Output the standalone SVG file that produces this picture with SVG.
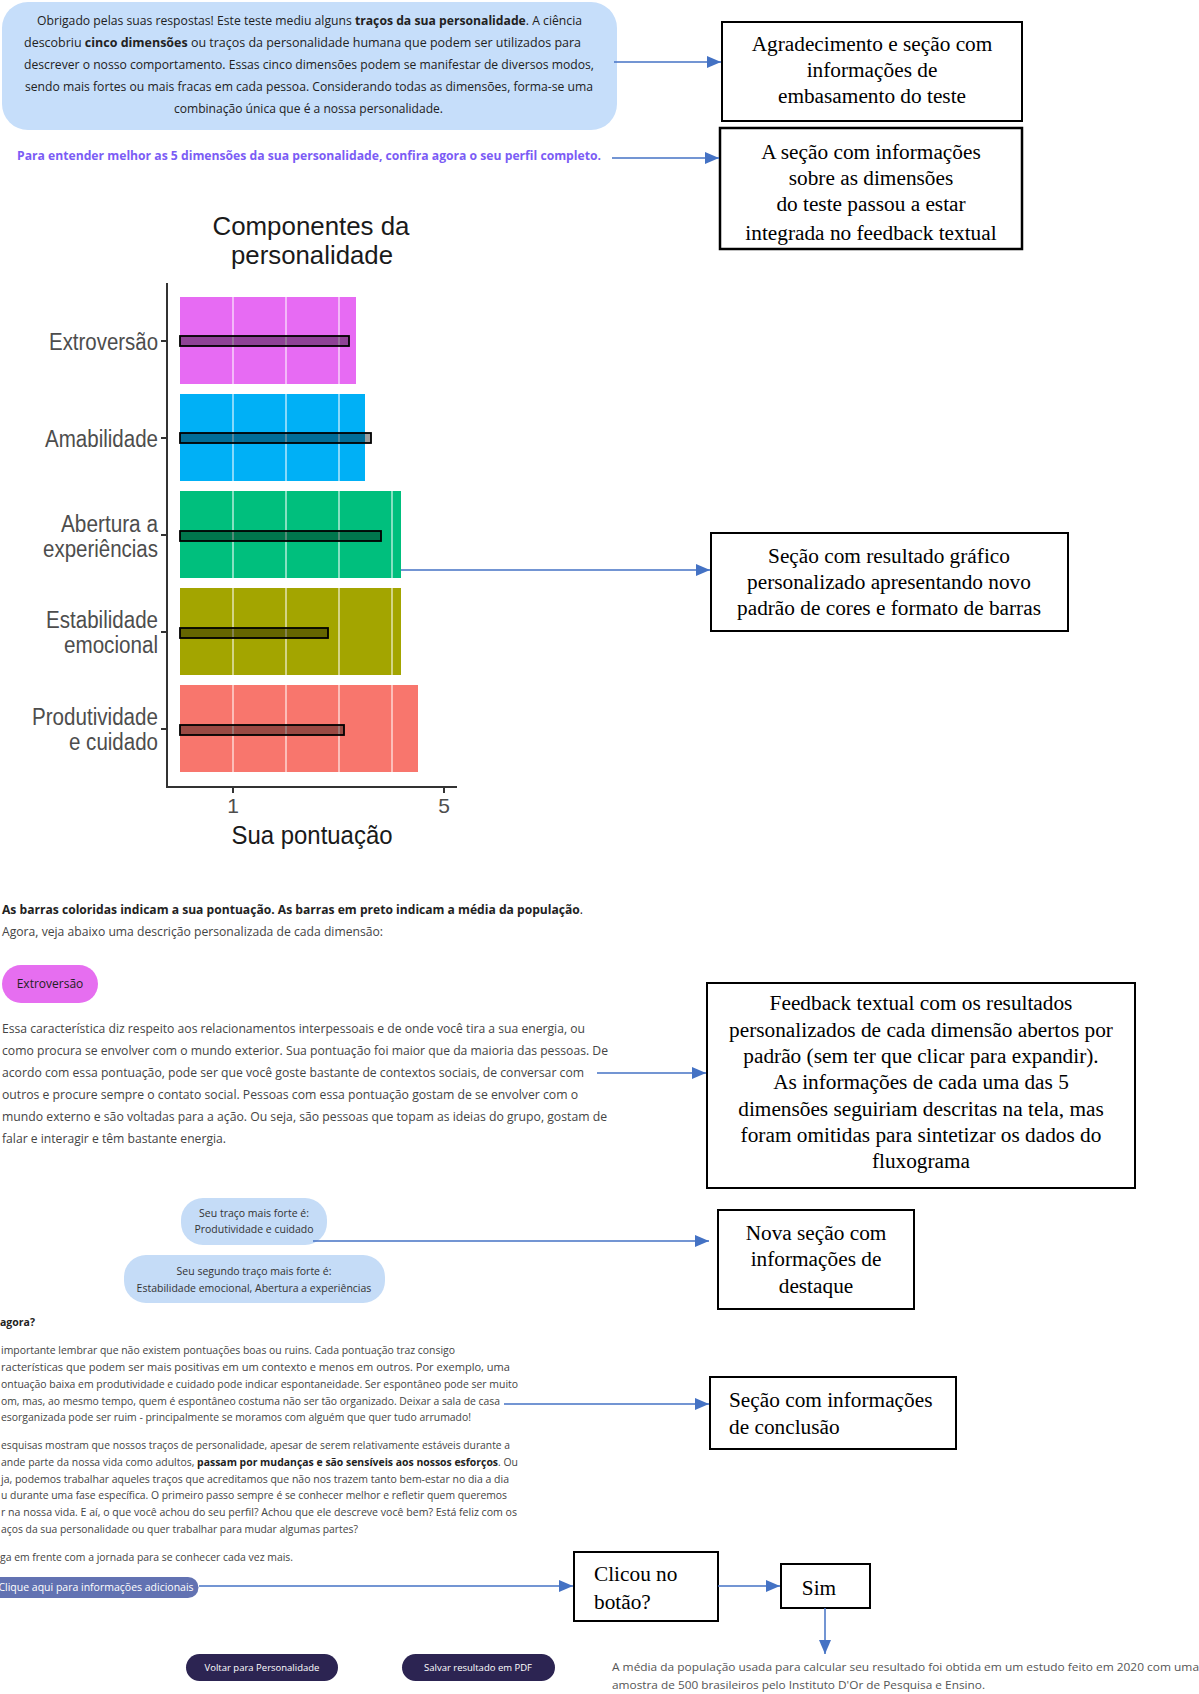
<svg xmlns="http://www.w3.org/2000/svg" width="1199" height="1694" viewBox="0 0 1199 1694">
<style>
.web{font-family:"Open Sans","Noto Sans",sans-serif;fill:#333}
.b{font-weight:bold}
.box{fill:#fff;stroke:#000;stroke-width:2}
.bt{font-family:"Liberation Serif","Times New Roman",serif;font-size:21.3px;fill:#000}
.conn{stroke:#4472C4;stroke-width:1.5;fill:none;marker-end:url(#ah)}
.ch{font-family:"Liberation Sans",Arial,sans-serif}
.lab{font-size:23px;fill:#4d4d4d;text-anchor:end}
.grid{stroke:#fff;stroke-opacity:0.7;stroke-width:1.5}
.mean{fill:#000;fill-opacity:0.38;stroke:#000;stroke-width:1.8}
</style>
<defs>
<marker id="ah" markerUnits="userSpaceOnUse" markerWidth="14" markerHeight="12" refX="14" refY="6" orient="auto">
<path d="M0,0 L14,6 L0,12 z" fill="#4472C4"/>
</marker>
<clipPath id="clip2"><rect x="720" y="128" width="302" height="117"/></clipPath>
</defs>
<rect width="1199" height="1694" fill="#fff"/>

<g id="intro">
<rect x="2" y="2" width="615" height="128" rx="26" fill="#C6DEFA"/>
<text class="web" font-size="12.5" y="25" x="37" textLength="545" lengthAdjust="spacingAndGlyphs" style="fill:#222">Obrigado pelas suas respostas! Este teste mediu alguns <tspan class="b">traços da sua personalidade</tspan>. A ciência</text>
<text class="web" font-size="12.5" y="47" x="24" textLength="557" lengthAdjust="spacingAndGlyphs" style="fill:#222">descobriu <tspan class="b">cinco dimensões</tspan> ou traços da personalidade humana que podem ser utilizados para</text>
<text class="web" font-size="12.5" y="69" x="24" textLength="570" lengthAdjust="spacingAndGlyphs" style="fill:#222">descrever o nosso comportamento. Essas cinco dimensões podem se manifestar de diversos modos,</text>
<text class="web" font-size="12.5" y="91" x="25" textLength="568" lengthAdjust="spacingAndGlyphs" style="fill:#222">sendo mais fortes ou mais fracas em cada pessoa. Considerando todas as dimensões, forma-se uma</text>
<text class="web" font-size="12.5" y="113" x="174" textLength="269" lengthAdjust="spacingAndGlyphs" style="fill:#222">combinação única que é a nossa personalidade.</text>
</g>

<g id="link">
<text class="web b" font-size="12.5" y="160" x="17" textLength="584" lengthAdjust="spacingAndGlyphs" style="fill:#7B5CF5">Para entender melhor as 5 dimensões da sua personalidade, confira agora o seu perfil completo.</text>
</g>

<g id="box1">
<rect class="box" x="722" y="22" width="300" height="99" stroke-width="2.5"/>
<text class="bt" text-anchor="middle" x="872" y="51">Agradecimento e seção com</text>
<text class="bt" text-anchor="middle" x="872" y="77">informações de</text>
<text class="bt" text-anchor="middle" x="872" y="103">embasamento do teste</text>
</g>

<g id="box2">
<g clip-path="url(#clip2)">
<text class="bt" text-anchor="middle" x="871" y="159">A seção com informações</text>
<text class="bt" text-anchor="middle" x="871" y="185">sobre as dimensões</text>
<text class="bt" text-anchor="middle" x="871" y="211">do teste passou a estar</text>
<text class="bt" text-anchor="middle" x="871" y="240">integrada no feedback textual</text>
</g>
<rect x="720" y="128" width="302" height="121" fill="none" stroke="#000" stroke-width="2.5"/>
</g>

<g id="chart">
<text class="ch" font-size="26" fill="#1a1a1a" text-anchor="middle" x="311" y="235" textLength="197" lengthAdjust="spacingAndGlyphs">Componentes da</text>
<text class="ch" font-size="26" fill="#1a1a1a" text-anchor="middle" x="312" y="264" textLength="162" lengthAdjust="spacingAndGlyphs">personalidade</text>
<rect x="180" y="297" width="176" height="87" fill="#E76BF3"/>
<rect x="180" y="394" width="185" height="87" fill="#00B0F6"/>
<rect x="180" y="491" width="221" height="87" fill="#00BF7D"/>
<rect x="180" y="588" width="221" height="87" fill="#A3A500"/>
<rect x="180" y="685" width="238" height="87" fill="#F8766D"/>
<g class="grid">
<line x1="233" y1="297" x2="233" y2="384"/><line x1="286" y1="297" x2="286" y2="384"/><line x1="339" y1="297" x2="339" y2="384"/>
<line x1="233" y1="394" x2="233" y2="481"/><line x1="286" y1="394" x2="286" y2="481"/><line x1="339" y1="394" x2="339" y2="481"/>
<line x1="233" y1="491" x2="233" y2="578"/><line x1="286" y1="491" x2="286" y2="578"/><line x1="339" y1="491" x2="339" y2="578"/><line x1="392" y1="491" x2="392" y2="578"/>
<line x1="233" y1="588" x2="233" y2="675"/><line x1="286" y1="588" x2="286" y2="675"/><line x1="339" y1="588" x2="339" y2="675"/><line x1="392" y1="588" x2="392" y2="675"/>
<line x1="233" y1="685" x2="233" y2="772"/><line x1="286" y1="685" x2="286" y2="772"/><line x1="339" y1="685" x2="339" y2="772"/><line x1="392" y1="685" x2="392" y2="772"/>
</g>
<rect class="mean" x="180" y="336" width="169" height="10"/>
<rect class="mean" x="180" y="433" width="191" height="10"/>
<rect class="mean" x="180" y="531" width="201" height="10"/>
<rect class="mean" x="180" y="628" width="148" height="10"/>
<rect class="mean" x="180" y="725" width="164" height="10"/>
<g stroke="#333" stroke-width="2" fill="none">
<path d="M167,283 V787 H457"/>
<path d="M161,341 H167 M161,438 H167 M161,535 H167 M161,632 H167 M161,729 H167 M233,787 V793 M444,787 V793"/>
</g>
<text class="ch lab" x="158" y="350" textLength="109" lengthAdjust="spacingAndGlyphs">Extroversão</text>
<text class="ch lab" x="158" y="447" textLength="113" lengthAdjust="spacingAndGlyphs">Amabilidade</text>
<text class="ch lab" x="158" y="532" textLength="97" lengthAdjust="spacingAndGlyphs">Abertura a</text>
<text class="ch lab" x="158" y="557" textLength="115" lengthAdjust="spacingAndGlyphs">experiências</text>
<text class="ch lab" x="158" y="628" textLength="112" lengthAdjust="spacingAndGlyphs">Estabilidade</text>
<text class="ch lab" x="158" y="653" textLength="94" lengthAdjust="spacingAndGlyphs">emocional</text>
<text class="ch lab" x="158" y="725" textLength="126" lengthAdjust="spacingAndGlyphs">Produtividade</text>
<text class="ch lab" x="158" y="750" textLength="89" lengthAdjust="spacingAndGlyphs">e cuidado</text>
<text class="ch" font-size="21" fill="#4d4d4d" text-anchor="middle" x="233" y="813">1</text>
<text class="ch" font-size="21" fill="#4d4d4d" text-anchor="middle" x="444" y="813">5</text>
<text class="ch" font-size="25" fill="#1a1a1a" text-anchor="middle" x="312" y="844" textLength="161" lengthAdjust="spacingAndGlyphs">Sua pontuação</text>
</g>

<g id="box3">
<rect class="box" x="711" y="533" width="357" height="98"/>
<text class="bt" text-anchor="middle" x="889" y="563">Seção com resultado gráfico</text>
<text class="bt" text-anchor="middle" x="889" y="589">personalizado apresentando novo</text>
<text class="bt" text-anchor="middle" x="889" y="615">padrão de cores e formato de barras</text>
</g>

<g id="feedback">
<text class="web" font-size="12.5" y="914" x="2" textLength="581" lengthAdjust="spacingAndGlyphs" style="fill:#222"><tspan class="b">As barras coloridas indicam a sua pontuação. As barras em preto indicam a média da população</tspan>.</text>
<text class="web" font-size="12.5" y="936" x="2" textLength="381" lengthAdjust="spacingAndGlyphs" style="fill:#444">Agora, veja abaixo uma descrição personalizada de cada dimensão:</text>
<rect x="2" y="965" width="96" height="38" rx="19" fill="#E66EF0"/>
<text class="web" font-size="12" x="50" y="988" text-anchor="middle" style="fill:#222">Extroversão</text>
<g class="web" font-size="12.5" style="fill:#444">
<text x="2" y="1033" textLength="583" lengthAdjust="spacingAndGlyphs">Essa característica diz respeito aos relacionamentos interpessoais e de onde você tira a sua energia, ou</text>
<text x="2" y="1055" textLength="606" lengthAdjust="spacingAndGlyphs">como procura se envolver com o mundo exterior. Sua pontuação foi maior que da maioria das pessoas. De</text>
<text x="2" y="1077" textLength="582" lengthAdjust="spacingAndGlyphs">acordo com essa pontuação, pode ser que você goste bastante de contextos sociais, de conversar com</text>
<text x="2" y="1099" textLength="576" lengthAdjust="spacingAndGlyphs">outros e procure sempre o contato social. Pessoas com essa pontuação gostam de se envolver com o</text>
<text x="2" y="1121" textLength="605" lengthAdjust="spacingAndGlyphs">mundo externo e são voltadas para a ação. Ou seja, são pessoas que topam as ideias do grupo, gostam de</text>
<text x="2" y="1143" textLength="224" lengthAdjust="spacingAndGlyphs">falar e interagir e têm bastante energia.</text>
</g>
</g>

<g id="box4">
<rect class="box" x="707" y="983" width="428" height="205"/>
<text class="bt" text-anchor="middle" x="921" y="1010">Feedback textual com os resultados</text>
<text class="bt" text-anchor="middle" x="921" y="1037">personalizados de cada dimensão abertos por</text>
<text class="bt" text-anchor="middle" x="921" y="1063">padrão (sem ter que clicar para expandir).</text>
<text class="bt" text-anchor="middle" x="921" y="1089">As informações de cada uma das 5</text>
<text class="bt" text-anchor="middle" x="921" y="1116">dimensões seguiriam descritas na tela, mas</text>
<text class="bt" text-anchor="middle" x="921" y="1142">foram omitidas para sintetizar os dados do</text>
<text class="bt" text-anchor="middle" x="921" y="1168">fluxograma</text>
</g>

<g id="highlights">
<rect x="181" y="1198" width="146" height="47" rx="22" fill="#C5DCF7"/>
<text class="web" font-size="10.5" text-anchor="middle" x="254" y="1217" style="fill:#333">Seu traço mais forte é:</text>
<text class="web" font-size="10.5" text-anchor="middle" x="254" y="1233" style="fill:#333">Produtividade e cuidado</text>
<rect x="124" y="1255" width="261" height="48" rx="22" fill="#C5DCF7"/>
<text class="web" font-size="10.5" text-anchor="middle" x="254" y="1275" style="fill:#333">Seu segundo traço mais forte é:</text>
<text class="web" font-size="10.5" text-anchor="middle" x="254" y="1292" style="fill:#333">Estabilidade emocional, Abertura a experiências</text>
</g>

<g id="box5">
<rect class="box" x="718" y="1210" width="196" height="99"/>
<text class="bt" text-anchor="middle" x="816" y="1240">Nova seção com</text>
<text class="bt" text-anchor="middle" x="816" y="1266">informações de</text>
<text class="bt" text-anchor="middle" x="816" y="1293">destaque</text>
</g>

<g id="conclusion" class="web" font-size="10.5" style="fill:#444">
<text x="0" y="1326" class="b" style="fill:#222">agora?</text>
<text x="1" y="1354" textLength="454" lengthAdjust="spacingAndGlyphs">importante lembrar que não existem pontuações boas ou ruins. Cada pontuação traz consigo</text>
<text x="1" y="1371" textLength="509" lengthAdjust="spacingAndGlyphs">racterísticas que podem ser mais positivas em um contexto e menos em outros. Por exemplo, uma</text>
<text x="1" y="1388" textLength="517" lengthAdjust="spacingAndGlyphs">ontuação baixa em produtividade e cuidado pode indicar espontaneidade. Ser espontâneo pode ser muito</text>
<text x="1" y="1405" textLength="499" lengthAdjust="spacingAndGlyphs">om, mas, ao mesmo tempo, quem é espontâneo costuma não ser tão organizado. Deixar a sala de casa</text>
<text x="1" y="1421" textLength="470" lengthAdjust="spacingAndGlyphs">esorganizada pode ser ruim - principalmente se moramos com alguém que quer tudo arrumado!</text>
<text x="1" y="1449" textLength="509" lengthAdjust="spacingAndGlyphs">esquisas mostram que nossos traços de personalidade, apesar de serem relativamente estáveis durante a</text>
<text x="1" y="1466" textLength="517" lengthAdjust="spacingAndGlyphs">ande parte da nossa vida como adultos, <tspan class="b" style="fill:#222">passam por mudanças e são sensíveis aos nossos esforços</tspan>. Ou</text>
<text x="1" y="1483" textLength="508" lengthAdjust="spacingAndGlyphs">ja, podemos trabalhar aqueles traços que acreditamos que não nos trazem tanto bem-estar no dia a dia</text>
<text x="1" y="1499" textLength="506" lengthAdjust="spacingAndGlyphs">u durante uma fase específica. O primeiro passo sempre é se conhecer melhor e refletir quem queremos</text>
<text x="1" y="1516" textLength="516" lengthAdjust="spacingAndGlyphs">r na nossa vida. E aí, o que você achou do seu perfil? Achou que ele descreve você bem? Está feliz com os</text>
<text x="1" y="1533" textLength="357" lengthAdjust="spacingAndGlyphs">aços da sua personalidade ou quer trabalhar para mudar algumas partes?</text>
<text x="0" y="1561" textLength="293" lengthAdjust="spacingAndGlyphs">ga em frente com a jornada para se conhecer cada vez mais.</text>
</g>

<g id="box6">
<rect class="box" x="710" y="1377" width="246" height="72"/>
<text class="bt" x="729" y="1407">Seção com informações</text>
<text class="bt" x="729" y="1434">de conclusão</text>
</g>

<g id="button-info">
<path d="M0,1577 H188 A10.5,10.5 0 0 1 188,1598 H0 Z" fill="#6272B2"/>
<text class="web" font-size="10.5" x="96" y="1591" text-anchor="middle" style="fill:#fff">Clique aqui para informações adicionais</text>
</g>

<g id="box7">
<rect class="box" x="574" y="1552" width="144" height="69"/>
<text class="bt" x="594" y="1581">Clicou no</text>
<text class="bt" x="594" y="1609">botão?</text>
</g>

<g id="box8">
<rect class="box" x="781" y="1564" width="89" height="44"/>
<text class="bt" text-anchor="middle" x="819" y="1595">Sim</text>
</g>

<g id="buttons">
<rect x="186" y="1654" width="152" height="27" rx="13.5" fill="#2C2452"/>
<text class="web" font-size="9.5" x="262" y="1671" text-anchor="middle" style="fill:#fff">Voltar para Personalidade</text>
<rect x="402" y="1654" width="153" height="27" rx="13.5" fill="#2C2452"/>
<text class="web" font-size="9.5" x="478" y="1671" text-anchor="middle" style="fill:#fff">Salvar resultado em PDF</text>
</g>

<g id="footnote" class="web" font-size="11.5" style="fill:#555">
<text x="612" y="1671" textLength="587" lengthAdjust="spacingAndGlyphs">A média da população usada para calcular seu resultado foi obtida em um estudo feito em 2020 com uma</text>
<text x="612" y="1689" textLength="373" lengthAdjust="spacingAndGlyphs">amostra de 500 brasileiros pelo Instituto D'Or de Pesquisa e Ensino.</text>
</g>

<g id="connectors">
<line class="conn" x1="614" y1="62" x2="721" y2="62"/>
<line class="conn" x1="612" y1="158" x2="719" y2="158"/>
<line class="conn" x1="401" y1="570" x2="710" y2="570"/>
<line class="conn" x1="597" y1="1073" x2="706" y2="1073"/>
<line class="conn" x1="313" y1="1241" x2="709" y2="1241"/>
<line class="conn" x1="504" y1="1404" x2="709" y2="1404"/>
<line class="conn" x1="199" y1="1586" x2="573" y2="1586"/>
<line class="conn" x1="718" y1="1586" x2="780" y2="1586"/>
<line class="conn" x1="825" y1="1608" x2="825" y2="1654"/>
</g>
</svg>
